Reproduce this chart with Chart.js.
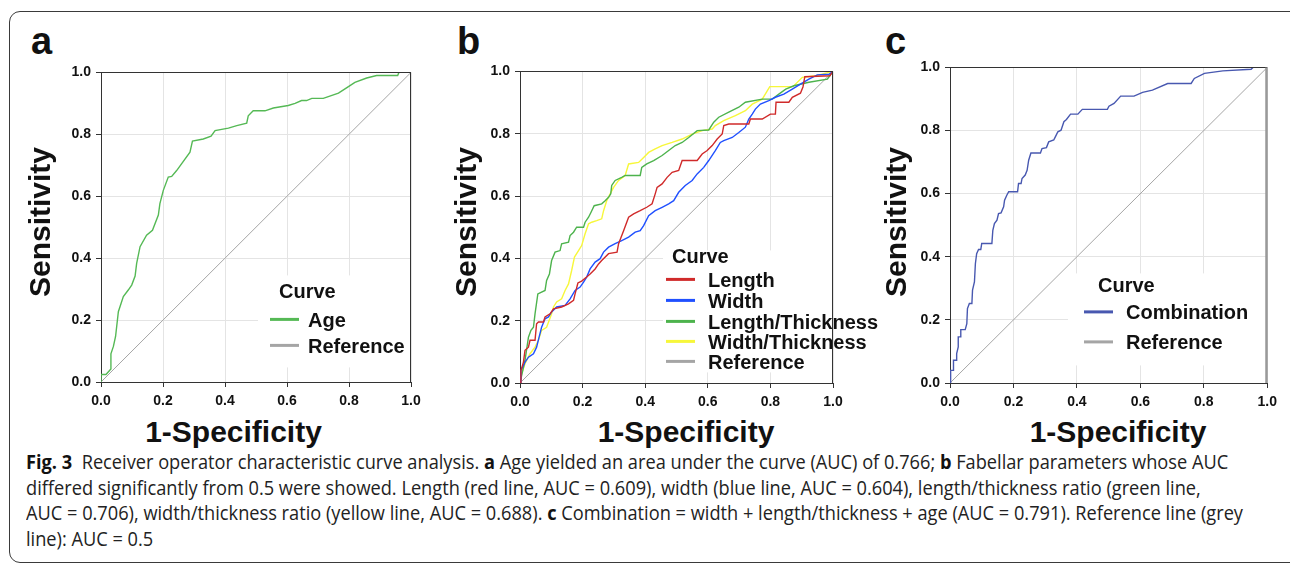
<!DOCTYPE html>
<html>
<head>
<meta charset="utf-8">
<script src="https://cdn.jsdelivr.net/npm/chart.js@4.4.0/dist/chart.umd.min.js"></script>
<style>
  body { margin:0; width:1290px; height:563px; background:#fff; position:relative; overflow:hidden;
         font-family:"Liberation Sans", Arial, Helvetica, sans-serif; color:#111; }
  #frame { position:absolute; left:9px; top:11px; width:1300px; height:550px;
           border:1px solid #3a3a3a; border-radius:11px; }
  canvas { position:absolute; }
  .letter { position:absolute; top:22px; font-size:38px; line-height:38px; font-weight:bold; }
  .ytitle { position:absolute; width:200px; height:30px; line-height:30px; font-size:30px; font-weight:bold;
            text-align:center; transform:rotate(-90deg); top:206.5px; }
  .xtitle { position:absolute; width:300px; line-height:30px; font-size:30px; font-weight:bold;
            text-align:center; top:417px; }
  .cap { position:absolute; left:26px; white-space:nowrap; font-family:"Open Sans", "Noto Sans", sans-serif;
         font-size:20px; line-height:26px; color:#222; transform-origin:0 0; }
  .cap b { color:#111; }
</style>
</head>
<body>
<div id="frame"></div>

<div class="letter" style="left:31px">a</div>
<div class="letter" style="left:457px">b</div>
<div class="letter" style="left:885px">c</div>

<canvas id="chartA" width="386" height="350" style="left:41px; top:62px"></canvas>
<canvas id="chartB" width="433" height="352" style="left:460px; top:61px"></canvas>
<canvas id="chartC" width="392" height="356" style="left:890px; top:57px"></canvas>

<div class="ytitle" style="left:-60px">Sensitivity</div>
<div class="ytitle" style="left:366px">Sensitivity</div>
<div class="ytitle" style="left:796px">Sensitivity</div>
<div class="xtitle" style="left:83.5px">1-Specificity</div>
<div class="xtitle" style="left:536px">1-Specificity</div>
<div class="xtitle" style="left:968px">1-Specificity</div>

<div class="cap" style="top:449.2px"><b>Fig. 3</b>&nbsp; Receiver operator characteristic curve analysis. <b>a</b> Age yielded an area under the curve (AUC) of 0.766; <b>b</b> Fabellar parameters whose AUC</div>
<div class="cap" style="top:474.9px">differed significantly from 0.5 were showed. Length (red line, AUC = 0.609), width (blue line, AUC = 0.604), length/thickness ratio (green line,</div>
<div class="cap" style="top:500.2px">AUC = 0.706), width/thickness ratio (yellow line, AUC = 0.688). <b>c</b> Combination = width + length/thickness + age (AUC = 0.791). Reference line (grey</div>
<div class="cap" style="top:525.9px">line): AUC = 0.5</div>

<script>
const FONT = '"Liberation Sans", Arial, Helvetica, sans-serif';

// reference diagonal
const refFpr = [0, 1];
const refTpr = [0, 1];

// panel a - age
const ageFpr = [0, 0, 0.016, 0.032, 0.032, 0.04, 0.047, 0.056, 0.072, 0.088, 0.099, 0.11, 0.115, 0.126, 0.147, 0.166,
  0.185, 0.19, 0.201, 0.217, 0.228, 0.244, 0.287, 0.295, 0.33, 0.355, 0.368, 0.411, 0.438, 0.47, 0.475, 0.491,
  0.529, 0.556, 0.604, 0.626, 0.647, 0.663, 0.68, 0.717, 0.766, 0.792, 0.819, 0.857, 0.889, 0.957, 0.961, 1];
const ageTpr = [0, 0.024, 0.024, 0.042, 0.091, 0.115, 0.147, 0.227, 0.276, 0.297, 0.313, 0.342, 0.383, 0.437, 0.474, 0.49,
  0.539, 0.576, 0.619, 0.662, 0.664, 0.683, 0.742, 0.778, 0.785, 0.794, 0.812, 0.82, 0.828, 0.836, 0.86, 0.876,
  0.876, 0.885, 0.893, 0.9, 0.909, 0.909, 0.916, 0.916, 0.933, 0.95, 0.968, 0.982, 0.99, 0.99, 1, 1];

// panel b - fabellar parameters
const lengthFpr = [0, 0.003, 0.011, 0.016, 0.027, 0.032, 0.048, 0.053, 0.059, 0.075, 0.08, 0.096, 0.107, 0.133, 0.155, 0.171,
  0.176, 0.185, 0.197, 0.213, 0.224, 0.24, 0.251, 0.261, 0.283, 0.31, 0.315, 0.331, 0.347, 0.363, 0.384, 0.405,
  0.422, 0.432, 0.438, 0.454, 0.47, 0.486, 0.507, 0.518, 0.566, 0.582, 0.598, 0.614, 0.63, 0.646, 0.651, 0.667,
  0.731, 0.736, 0.774, 0.8, 0.816, 0.818, 0.859, 0.87, 0.896, 0.904, 0.91, 0.99, 1];
const lengthTpr = [0, 0.04, 0.067, 0.105, 0.115, 0.137, 0.137, 0.19, 0.196, 0.196, 0.212, 0.222, 0.238, 0.244, 0.254, 0.265,
  0.286, 0.321, 0.327, 0.34, 0.35, 0.366, 0.382, 0.393, 0.415, 0.42, 0.447, 0.489, 0.532, 0.543, 0.553, 0.564,
  0.575, 0.607, 0.628, 0.639, 0.66, 0.676, 0.682, 0.714, 0.714, 0.735, 0.746, 0.762, 0.783, 0.799, 0.826, 0.831,
  0.831, 0.847, 0.847, 0.863, 0.863, 0.901, 0.901, 0.917, 0.93, 0.95, 0.983, 0.986, 1];

const widthFpr = [0, 0.003, 0.016, 0.027, 0.043, 0.053, 0.061, 0.069, 0.08, 0.091, 0.101, 0.117, 0.144, 0.16, 0.176, 0.192,
  0.203, 0.213, 0.224, 0.24, 0.256, 0.267, 0.283, 0.304, 0.325, 0.347, 0.368, 0.384, 0.395, 0.411, 0.432, 0.454,
  0.475, 0.491, 0.507, 0.528, 0.55, 0.566, 0.587, 0.603, 0.624, 0.64, 0.651, 0.678, 0.699, 0.72, 0.731, 0.742,
  0.752, 0.768, 0.795, 0.816, 0.843, 0.87, 0.896, 0.923, 0.95, 0.987, 1];
const widthTpr = [0, 0.04, 0.067, 0.083, 0.094, 0.115, 0.147, 0.179, 0.206, 0.212, 0.228, 0.244, 0.249, 0.27, 0.297, 0.308,
  0.324, 0.34, 0.366, 0.388, 0.399, 0.42, 0.436, 0.447, 0.457, 0.468, 0.484, 0.489, 0.505, 0.537, 0.553, 0.564,
  0.575, 0.585, 0.612, 0.634, 0.65, 0.671, 0.692, 0.714, 0.746, 0.772, 0.778, 0.788, 0.804, 0.821, 0.847, 0.863,
  0.879, 0.895, 0.906, 0.917, 0.927, 0.943, 0.959, 0.975, 0.989, 0.991, 1];

const ltFpr = [0, 0.016, 0.027, 0.035, 0.043, 0.048, 0.057, 0.08, 0.085, 0.094, 0.101, 0.112, 0.128, 0.133, 0.155, 0.16,
  0.171, 0.181, 0.203, 0.208, 0.219, 0.227, 0.237, 0.261, 0.272, 0.283, 0.29, 0.293, 0.304, 0.325, 0.336, 0.384,
  0.389, 0.405, 0.427, 0.454, 0.475, 0.496, 0.518, 0.539, 0.566, 0.603, 0.619, 0.635, 0.667, 0.699, 0.72, 0.774,
  0.806, 0.827, 0.849, 0.875, 0.923, 0.982, 1];
const ltTpr = [0, 0.073, 0.147, 0.169, 0.179, 0.222, 0.286, 0.297, 0.329, 0.35, 0.393, 0.42, 0.425, 0.447, 0.452, 0.473,
  0.484, 0.5, 0.5, 0.516, 0.532, 0.548, 0.569, 0.575, 0.585, 0.596, 0.607, 0.634, 0.65, 0.66, 0.666, 0.666,
  0.692, 0.703, 0.714, 0.73, 0.746, 0.762, 0.772, 0.788, 0.81, 0.812, 0.837, 0.853, 0.869, 0.885, 0.901, 0.911,
  0.911, 0.927, 0.943, 0.954, 0.965, 0.975, 1];

const wtFpr = [0, 0.005, 0.016, 0.032, 0.048, 0.059, 0.069, 0.085, 0.101, 0.107, 0.117, 0.133, 0.144, 0.155, 0.165, 0.174,
  0.187, 0.197, 0.208, 0.219, 0.229, 0.245, 0.261, 0.267, 0.277, 0.288, 0.299, 0.315, 0.336, 0.347, 0.379, 0.395,
  0.411, 0.432, 0.454, 0.486, 0.518, 0.55, 0.582, 0.614, 0.624, 0.651, 0.688, 0.72, 0.742, 0.774, 0.798, 0.872,
  0.902, 0.945, 1];
const wtTpr = [0, 0.03, 0.062, 0.094, 0.115, 0.137, 0.169, 0.179, 0.222, 0.244, 0.26, 0.27, 0.297, 0.318, 0.361, 0.404,
  0.425, 0.441, 0.479, 0.511, 0.516, 0.521, 0.527, 0.553, 0.585, 0.607, 0.628, 0.65, 0.666, 0.703, 0.708, 0.724,
  0.74, 0.751, 0.762, 0.772, 0.783, 0.799, 0.81, 0.815, 0.826, 0.842, 0.858, 0.874, 0.895, 0.911, 0.951, 0.951,
  0.981, 0.986, 1];

// panel c - combination
const comboFpr = [0, 0.002, 0.011, 0.011, 0.019, 0.021, 0.026, 0.026, 0.032, 0.034, 0.048, 0.053, 0.055, 0.061, 0.069, 0.071,
  0.077, 0.08, 0.084, 0.09, 0.097, 0.1, 0.132, 0.135, 0.14, 0.148, 0.153, 0.161, 0.169, 0.172, 0.179, 0.185,
  0.213, 0.216, 0.224, 0.227, 0.237, 0.243, 0.248, 0.255, 0.285, 0.29, 0.304, 0.311, 0.327, 0.332, 0.34, 0.35,
  0.359, 0.367, 0.38, 0.403, 0.417, 0.496, 0.501, 0.517, 0.538, 0.58, 0.607, 0.638, 0.686, 0.76, 0.77, 0.802,
  0.86, 0.949, 0.955, 1];
const comboTpr = [0, 0.04, 0.04, 0.072, 0.072, 0.093, 0.114, 0.146, 0.146, 0.169, 0.169, 0.188, 0.236, 0.252, 0.252, 0.294,
  0.32, 0.378, 0.41, 0.423, 0.423, 0.442, 0.442, 0.484, 0.505, 0.516, 0.537, 0.539, 0.558, 0.579, 0.595, 0.606,
  0.606, 0.632, 0.632, 0.648, 0.659, 0.674, 0.706, 0.729, 0.729, 0.743, 0.746, 0.764, 0.77, 0.78, 0.796, 0.801,
  0.828, 0.835, 0.852, 0.852, 0.867, 0.867, 0.877, 0.886, 0.909, 0.909, 0.921, 0.928, 0.949, 0.949, 0.965, 0.981,
  0.989, 0.994, 1, 1];

function pts(xs, ys) { return xs.map((x, i) => ({ x: x, y: ys[i] })); }

function curve(label, color, xs, ys, w) {
  return { label: label, borderColor: color, backgroundColor: color, data: pts(xs, ys),
           showLine: true, borderWidth: w || 1.4, pointRadius: 0, fill: false };
}

function axisOpts(isX) {
  return {
    type: 'linear', min: 0, max: 1,
    ticks: { stepSize: 0.2, color: '#111', padding: isX ? 6 : 5, maxRotation: 0, autoSkip: false,
             font: { family: FONT, size: 14, weight: 'bold' }, callback: v => v.toFixed(1) },
    grid: { color: '#e4e4e4', lineWidth: 1, tickLength: 5, tickColor: '#333' },
    border: { color: '#333', width: 1 },
    afterFit: s => { if (isX) s.height = 30; else s.width = 50; }
  };
}

// legend drawn inside the plot on a white box
const rocLegend = {
  id: 'rocLegend',
  beforeDatasetsDraw(chart, args, o) {
    const ctx = chart.ctx, a = chart.chartArea;
    ctx.save();
    ctx.fillStyle = '#fff';
    ctx.fillRect(a.left + o.box[0], a.top + o.box[1], o.box[2], o.box[3]);
    ctx.font = 'bold 20px ' + FONT;
    ctx.fillStyle = '#111';
    ctx.textBaseline = 'alphabetic';
    ctx.fillText('Curve', a.left + o.titleX, a.top + o.titleY + 7);
    chart.data.datasets.forEach((d, i) => {
      const y = a.top + o.rowY[i];
      ctx.strokeStyle = d.borderColor;
      ctx.lineWidth = 3;
      ctx.beginPath();
      ctx.moveTo(a.left + o.lineX, y);
      ctx.lineTo(a.left + o.lineX + 29, y);
      ctx.stroke();
      ctx.fillText(d.label, a.left + o.textX, y + 7.5);
    });
    ctx.restore();
  }
};

// top and right edges of the plot box
const plotFrame = {
  id: 'plotFrame',
  afterDatasetsDraw(chart, args, o) {
    const ctx = chart.ctx, a = chart.chartArea;
    ctx.save();
    ctx.strokeStyle = '#333';
    ctx.lineWidth = 1;
    ctx.beginPath();
    ctx.moveTo(a.left, Math.round(a.top) + 0.5);
    ctx.lineTo(a.right, Math.round(a.top) + 0.5);
    ctx.stroke();
    ctx.strokeStyle = o.rightColor || '#333';
    ctx.lineWidth = o.rightWidth || 1;
    ctx.beginPath();
    ctx.moveTo(Math.round(a.right) - 0.5, a.top);
    ctx.lineTo(Math.round(a.right) - 0.5, a.bottom);
    ctx.stroke();
    ctx.restore();
  }
};

// build the chart, then size and move the canvas so the plot box sits where the figure has it
function makeChart(id, target, datasets, legendOpts, padRight, frameOpts) {
  const canvas = document.getElementById(id);
  const cfg = () => ({
    type: 'scatter',
    data: { datasets: datasets },
    options: {
      responsive: false, maintainAspectRatio: false, animation: false, devicePixelRatio: 1,
      layout: { padding: { left: 10, top: 10, right: padRight, bottom: 0 } },
      plugins: { legend: { display: false }, tooltip: { enabled: false },
                 rocLegend: legendOpts, plotFrame: frameOpts || {} },
      scales: { x: axisOpts(true), y: axisOpts(false) },
      elements: { line: { tension: 0 } }
    },
    plugins: [rocLegend, plotFrame]
  });
  let chart = new Chart(canvas, cfg());
  const a = chart.chartArea;
  const w = Math.round(canvas.width + target[2] - (a.right - a.left));
  const h = Math.round(canvas.height + target[3] - (a.bottom - a.top));
  chart.destroy();
  canvas.width = w;
  canvas.height = h;
  chart = new Chart(canvas, cfg());
  canvas.style.left = (target[0] - chart.chartArea.left) + 'px';
  canvas.style.top = (target[1] - chart.chartArea.top) + 'px';
  return chart;
}

const GREY = '#a5a5a5';

makeChart('chartA', [101, 72, 310, 310], [
  curve('Age', '#55b955', ageFpr, ageTpr),
  curve('Reference', GREY, refFpr, refTpr, 1)
], { box: [157, 203, 153, 92], titleX: 178, titleY: 219, lineX: 169, textX: 207, rowY: [247, 273] }, 16);

makeChart('chartB', [520, 71, 313, 312], [
  curve('Length', '#d02a2a', lengthFpr, lengthTpr),
  curve('Width', '#2050ff', widthFpr, widthTpr),
  curve('Length/Thickness', '#4db34d', ltFpr, ltTpr),
  curve('Width/Thickness', '#f7f73a', wtFpr, wtTpr),
  curve('Reference', GREY, refFpr, refTpr, 1)
], { box: [143, 179, 170, 122], titleX: 152, titleY: 185, lineX: 146, textX: 188, rowY: [208, 229, 250, 270, 290] }, 60);

makeChart('chartC', [950, 67, 317, 316], [
  curve('Combination', '#4858b0', comboFpr, comboTpr),
  curve('Reference', GREY, refFpr, refTpr, 1)
], { box: [118, 206, 199, 92], titleX: 148, titleY: 218, lineX: 134, textX: 176, rowY: [244.5, 274.5] }, 15,
  { rightColor: '#999', rightWidth: 2.5 });

// fit caption lines to the printed line length
const capLines = document.querySelectorAll('.cap');
const capScale = 1202 / capLines[0].scrollWidth;
capLines.forEach(el => { el.style.transform = 'scaleX(' + capScale + ')'; });
</script>
</body>
</html>
